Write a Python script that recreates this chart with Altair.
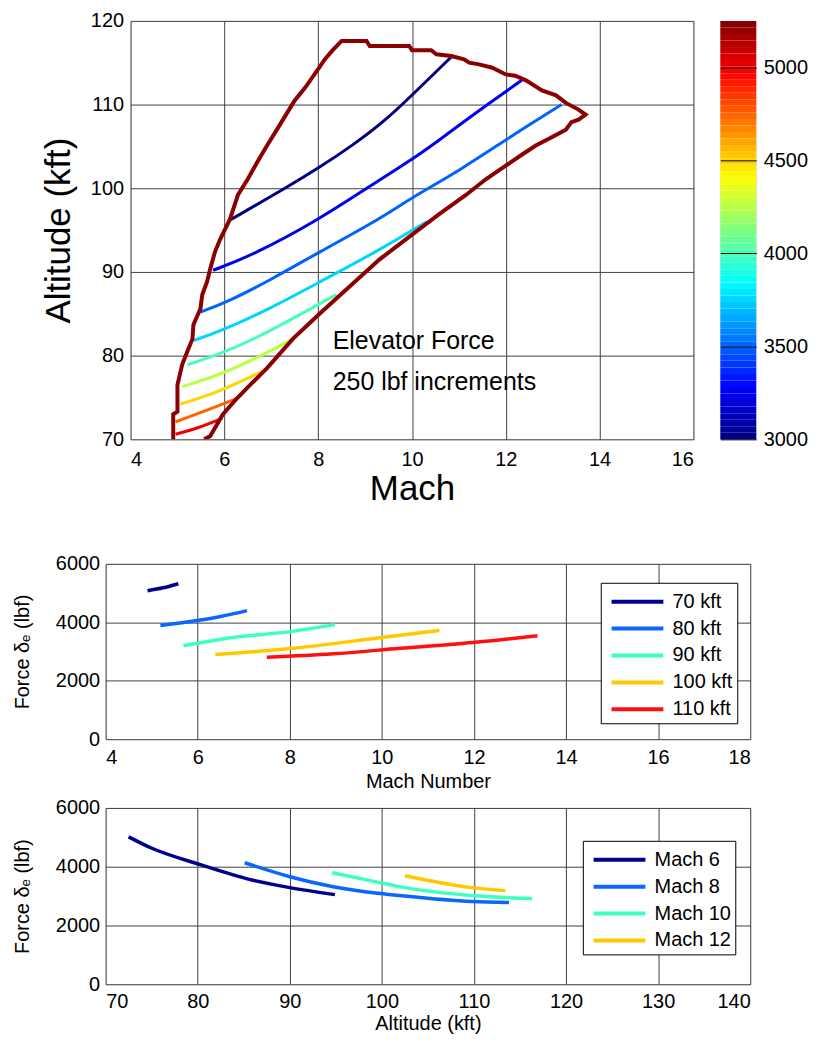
import altair as alt
import pandas as pd
import numpy as np

FONT = "Liberation Sans"

# ---------------- Top panel: elevator force contours (Mach, Altitude) ----------------
levels = [3000, 3250, 3500, 3750, 4000, 4250, 4500, 4750, 5000]
c3000_mach = [6.12, 7.33, 8.03, 8.73, 9.46, 10.16, 10.84]
c3000_alt = [96.2, 100.1, 102.5, 105.1, 108.2, 112.0, 115.7]
c3250_mach = [5.76, 6.61, 8.03, 9.03, 10.16, 10.73, 11.43, 12.34]
c3250_alt = [90.2, 92.0, 96.3, 100.0, 104.0, 106.4, 109.3, 112.9]
c3500_mach = [5.49, 6.06, 6.97, 8.03, 9.31, 10.0, 11.07, 12.13, 13.19]
c3500_alt = [85.2, 86.4, 89.0, 92.4, 96.3, 98.9, 102.3, 106.3, 110.0]
c3750_mach = [5.34, 5.91, 6.97, 8.03, 9.24, 10.31]
c3750_alt = [81.8, 82.9, 85.6, 88.8, 92.4, 96.0]
c4000_mach = [5.21, 6.06, 6.97, 8.39]
c4000_alt = [78.9, 80.5, 82.9, 87.3]
c4250_mach = [5.10, 5.91, 6.76, 7.46]
c4250_alt = [76.3, 77.7, 79.9, 82.0]
c4500_mach = [5.06, 5.91, 6.87]
c4500_alt = [74.2, 75.7, 78.3]
c4750_mach = [4.96, 5.55, 6.27]
c4750_alt = [72.1, 73.3, 74.9]
c5000_mach = [4.96, 5.42, 5.95]
c5000_alt = [70.6, 71.3, 72.5]

boundary_mach = [4.91, 4.91, 5.0, 5.0, 5.1, 5.21, 5.32, 5.34, 5.49, 5.53, 5.63, 5.70, 5.80,
                 5.91, 6.12, 6.29, 6.5, 6.7, 6.91, 7.12, 7.25, 7.5, 7.72, 7.97, 8.14, 8.31,
                 8.5, 9.03, 9.1, 9.94, 10.0, 10.41, 10.52, 10.84, 11.11, 11.22, 11.43, 11.71,
                 12.0, 12.2, 12.43, 12.77, 13.07, 13.28, 13.55, 13.7, 13.55, 13.4, 13.28,
                 12.98, 12.64, 12.34, 12.0, 11.58, 11.15, 10.58, 9.94, 9.31, 8.03, 7.46,
                 6.91, 6.55, 6.27, 5.97, 5.70, 5.57]
boundary_alt = [70.0, 73.0, 73.3, 76.5, 78.9, 80.5, 82.0, 83.7, 85.6, 87.3, 88.8, 90.4, 92.4,
                93.9, 96.3, 99.2, 101.1, 103.1, 105.1, 107.0, 108.2, 110.5, 112.0, 114.0, 115.4,
                116.5, 117.6, 117.6, 117.0, 117.0, 116.5, 116.5, 116.0, 115.8, 115.4, 115.0,
                114.8, 114.4, 113.6, 113.45, 112.9, 111.7, 111.1, 110.2, 109.4, 108.8, 108.2,
                107.9, 107.0, 106.1, 105.1, 104.0, 102.7, 101.1, 99.2, 96.9, 94.2, 91.5, 85.0,
                82.0, 78.5, 76.5, 74.9, 73.0, 70.4, 70.0]

annot_text = ["Elevator Force", "250 lbf increments"]
annot_mach = [8.31, 8.31]
annot_alt = [81.7, 76.8]

cbar_ticks = [3000, 3500, 4000, 4500, 5000]
cbar_min, cbar_max = 3000, 5250

# ---------------- Middle panel: force vs Mach ----------------
mid_names = ["70 kft", "80 kft", "90 kft", "100 kft", "110 kft"]
mid_colors = ["#00008f", "#0a66ff", "#3dffc2", "#ffc800", "#ff1010"]
m70_mach = [4.91, 5.25, 5.58]
m70_force = [5080, 5180, 5320]
m80_mach = [5.19, 5.99, 6.5, 7.07]
m80_force = [3890, 4060, 4200, 4400]
m90_mach = [5.69, 6.77, 8.0, 8.98]
m90_force = [3200, 3480, 3680, 3920]
m100_mach = [6.38, 8.0, 9.95, 11.25]
m100_force = [2900, 3100, 3470, 3720]
m110_mach = [7.5, 8.94, 10.39, 11.97, 13.38]
m110_force = [2800, 2920, 3110, 3310, 3540]

# ---------------- Bottom panel: force vs altitude ----------------
bot_names = ["Mach 6", "Mach 8", "Mach 10", "Mach 12"]
bot_colors = ["#00008f", "#0a66ff", "#3dffc2", "#ffc800"]
b6_alt = [72.5, 74.9, 80.3, 85.7, 90.0, 94.9]
b6_force = [5017, 4644, 4068, 3560, 3288, 3050]
b8_alt = [85.1, 90.0, 94.7, 99.8, 101.9, 109.8, 113.8]
b8_force = [4135, 3660, 3320, 3085, 3017, 2813, 2780]
b10_alt = [94.6, 99.8, 101.9, 109.8, 116.3]
b10_force = [3797, 3458, 3322, 3017, 2915]
b12_alt = [102.5, 109.8, 113.4]
b12_force = [3695, 3288, 3186]


def lines_df(names, xs_list, ys_list, xname, yname, sname):
    rows = []
    for n, xs, ys in zip(names, xs_list, ys_list):
        for i, (x, y) in enumerate(zip(xs, ys)):
            rows.append({sname: n, xname: x, yname: y, "order": i})
    return pd.DataFrame(rows)


contour_df = lines_df(
    levels,
    [c3000_mach, c3250_mach, c3500_mach, c3750_mach, c4000_mach, c4250_mach, c4500_mach, c4750_mach, c5000_mach],
    [c3000_alt, c3250_alt, c3500_alt, c3750_alt, c4000_alt, c4250_alt, c4500_alt, c4750_alt, c5000_alt],
    "mach", "alt", "level")
boundary_df = pd.DataFrame({"mach": boundary_mach, "alt": boundary_alt, "order": range(len(boundary_mach))})
annot_df = pd.DataFrame({"mach": annot_mach, "alt": annot_alt, "text": annot_text})

mid_df = lines_df(mid_names, [m70_mach, m80_mach, m90_mach, m100_mach, m110_mach],
                  [m70_force, m80_force, m90_force, m100_force, m110_force], "mach", "force", "series")
bot_df = lines_df(bot_names, [b6_alt, b8_alt, b10_alt, b12_alt],
                  [b6_force, b8_force, b10_force, b12_force], "alt", "force", "series")

# jet colormap (MATLAB) mapped to 3000..5250
span = cbar_max - cbar_min
jet = alt.Scale(
    domain=[cbar_min, cbar_min + 0.125 * span, cbar_min + 0.375 * span,
            cbar_min + 0.625 * span, cbar_min + 0.875 * span, cbar_max],
    range=["#000080", "#0000ff", "#00ffff", "#ffff00", "#ff0000", "#800000"],
    interpolate="rgb")

edges = np.linspace(cbar_min, cbar_max, 65)
cbar_df = pd.DataFrame({"lo": edges[:-1], "hi": edges[1:], "mid": (edges[:-1] + edges[1:]) / 2})

GRID = "#404040"


def axis(**kw):
    base = dict(grid=True, gridColor=GRID, gridWidth=1, gridOpacity=1, domain=False,
                ticks=False, tickSize=0, labelFontSize=20, labelColor="black", format="d",
                titleColor="black", titleFontWeight="normal", labelFont=FONT, titleFont=FONT)
    base.update(kw)
    return alt.Axis(**base)


x_top = alt.X("mach:Q", scale=alt.Scale(domain=[4, 16], nice=False),
              axis=axis(values=[4, 6, 8, 10, 12, 14, 16], title="Mach", titleFontSize=35,
                        labelPadding=10, titlePadding=2))
y_top = alt.Y("alt:Q", scale=alt.Scale(domain=[70, 120], nice=False),
              axis=axis(values=[70, 80, 90, 100, 110, 120], title="Altitude (kft)", titleFontSize=35,
                        labelPadding=7, titlePadding=14))

contours = alt.Chart(contour_df).mark_line(strokeWidth=3, clip=True, interpolate="basis").encode(
    x=x_top, y=y_top,
    color=alt.Color("level:Q", scale=jet, legend=None),
    detail="level:N", order="order:Q")
boundary = alt.Chart(boundary_df).mark_line(color="#8b0000", strokeWidth=4, clip=True).encode(
    x="mach:Q", y="alt:Q", order="order:Q")
annot = alt.Chart(annot_df).mark_text(align="left", baseline="middle", fontSize=25, font=FONT,
                                      color="black").encode(x="mach:Q", y="alt:Q", text="text:N")
top_main = alt.layer(contours, boundary, annot).properties(width=565, height=420)

cbar = alt.Chart(cbar_df).mark_rect().encode(
    y=alt.Y("lo:Q", scale=alt.Scale(domain=[cbar_min, cbar_max], nice=False),
            axis=axis(orient="right", values=cbar_ticks, title=None, gridColor="black",
                      labelPadding=7, zindex=1)),
    y2="hi:Q",
    color=alt.Color("mid:Q", scale=jet, legend=None),
).properties(width=36, height=420)

# empty spacer so the top panel sits further right than the lower panels
spacer = alt.Chart(pd.DataFrame({"s": [0]})).mark_point(opacity=0).encode(
    x=alt.X("s:Q", axis=None), y=alt.Y("s:Q", axis=None)
).properties(width=1, height=420, view=alt.ViewBackground(stroke="transparent"))

top_inner = alt.hconcat(top_main, cbar, spacing=27, bounds="flush")
top_row = alt.hconcat(spacer, top_inner, spacing=24, bounds="flush")

legend_kw = dict(title=None, orient="none", labelFontSize=20, labelFont=FONT, labelColor="black",
                 symbolType="M-0.63,0H3.37", symbolSize=676, symbolStrokeWidth=4,
                 strokeColor="black", fillColor="white", padding=4, rowPadding=2,
                 labelOffset=38, cornerRadius=0)

mid = alt.Chart(mid_df).mark_line(strokeWidth=3.5, interpolate="monotone").encode(
    x=alt.X("mach:Q", scale=alt.Scale(domain=[4, 18], nice=False),
            axis=axis(values=list(range(4, 19, 2)), title="Mach Number", titleFontSize=20,
                      labelPadding=8, titlePadding=4)),
    y=alt.Y("force:Q", scale=alt.Scale(domain=[0, 6000], nice=False),
            axis=axis(values=[0, 2000, 4000, 6000], title="Force δₑ (lbf)", titleFontSize=20,
                      labelPadding=6, titlePadding=23)),
    color=alt.Color("series:N", scale=alt.Scale(domain=mid_names, range=mid_colors),
                    sort=mid_names, legend=alt.Legend(legendX=497, legendY=19, **legend_kw)),
    detail="series:N", order="order:Q",
).properties(width=647, height=176)

bot = alt.Chart(bot_df).mark_line(strokeWidth=3.5, interpolate="monotone").encode(
    x=alt.X("alt:Q", scale=alt.Scale(domain=[70, 140], nice=False),
            axis=axis(values=list(range(70, 141, 10)), title="Altitude (kft)", titleFontSize=20,
                      labelPadding=7, titlePadding=2)),
    y=alt.Y("force:Q", scale=alt.Scale(domain=[0, 6000], nice=False),
            axis=axis(values=[0, 2000, 4000, 6000], title="Force δₑ (lbf)", titleFontSize=20,
                      labelPadding=6, titlePadding=23)),
    color=alt.Color("series:N", scale=alt.Scale(domain=bot_names, range=bot_colors),
                    sort=bot_names, legend=alt.Legend(legendX=479, legendY=33, **legend_kw)),
    detail="series:N", order="order:Q",
).properties(width=647, height=177)

lower = alt.vconcat(mid, bot, spacing=5).resolve_scale(color="independent")

chart = alt.vconcat(top_row, lower, spacing=46).resolve_scale(color="independent").properties(
    padding={"left": 4, "top": 0, "right": 0, "bottom": 0}
).configure_view(stroke="black", strokeWidth=1.5).configure(font=FONT, background="white")

chart.save("out.html", embed_options={"renderer": "svg", "actions": False})
